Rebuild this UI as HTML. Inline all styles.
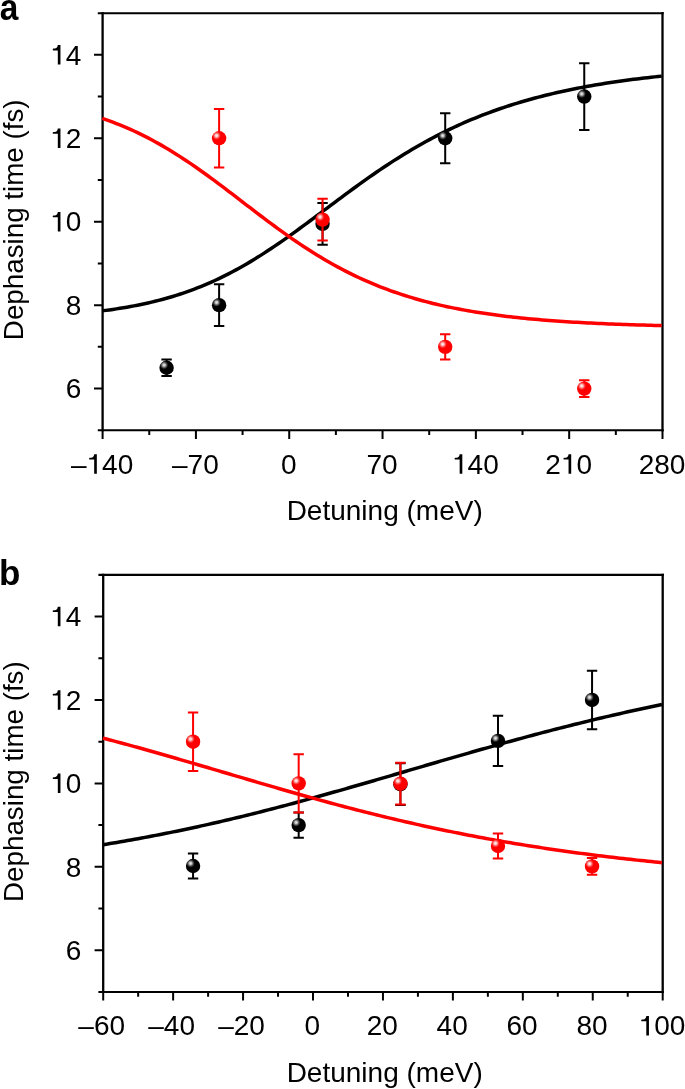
<!DOCTYPE html>
<html><head><meta charset="utf-8"><style>
html,body{margin:0;padding:0;background:#fff;}
svg{display:block;will-change:transform;}
</style></head><body>
<svg width="685" height="1089" viewBox="0 0 685 1089" font-family="Liberation Sans, sans-serif" font-size="28" fill="#000">
<defs>
<path id="one" d="M7.65,-19.5 L10.3,-19.5 L10.3,0 L7.65,0 L7.65,-14.1 L3.4,-14.1 Q2.55,-14.1 2.55,-15.0 Q2.55,-15.9 3.4,-15.9 L4.6,-15.9 Q7.3,-16.2 7.65,-19.5 Z"/>
<radialGradient id="hk" cx="0.325" cy="0.315" r="0.29"><stop offset="0" stop-color="#ececec"/><stop offset="0.3" stop-color="#c4c4c4"/><stop offset="0.65" stop-color="#505050"/><stop offset="1" stop-color="#000"/></radialGradient>
<radialGradient id="hr" cx="0.325" cy="0.315" r="0.29"><stop offset="0" stop-color="#fff6f6"/><stop offset="0.3" stop-color="#ffcccc"/><stop offset="0.65" stop-color="#ff5050"/><stop offset="1" stop-color="#f00"/></radialGradient>
</defs>
<rect width="685" height="1089" fill="#fff"/>
<path d="M102.6,12.1 V431.3 M662.5,12.1 V431.3" stroke="#000" stroke-width="2.3" fill="none"/>
<path d="M97.8,13.2 H663.65 M97.8,430.3 H663.65" stroke="#000" stroke-width="2.1" fill="none"/>
<path d="M102.6,388.58 h-8.6 M102.6,346.86 h-4.8 M102.6,305.14 h-8.6 M102.6,263.42 h-4.8 M102.6,221.70 h-8.6 M102.6,179.98 h-4.8 M102.6,138.26 h-8.6 M102.6,96.54 h-4.8 M102.6,54.82 h-8.6 M102.60,430.3 v8.6 M195.92,430.3 v8.6 M289.23,430.3 v8.6 M382.55,430.3 v8.6 M475.87,430.3 v8.6 M569.18,430.3 v8.6 M662.50,430.3 v8.6 M149.26,430.3 v4.8 M242.57,430.3 v4.8 M335.89,430.3 v4.8 M429.21,430.3 v4.8 M522.52,430.3 v4.8 M615.84,430.3 v4.8" stroke="#000" stroke-width="2.0" fill="none"/>
<polyline points="102.30,310.83 105.82,310.38 109.34,309.90 112.85,309.40 116.37,308.87 119.89,308.32 123.41,307.75 126.93,307.15 130.45,306.52 133.96,305.86 137.48,305.18 141.00,304.46 144.52,303.71 148.04,302.93 151.56,302.11 155.07,301.26 158.59,300.37 162.11,299.45 165.63,298.49 169.15,297.49 172.66,296.45 176.18,295.36 179.70,294.24 183.22,293.07 186.74,291.86 190.26,290.60 193.77,289.30 197.29,287.95 200.81,286.55 204.33,285.11 207.85,283.61 211.37,282.07 214.88,280.48 218.40,278.84 221.92,277.15 225.44,275.41 228.96,273.62 232.47,271.78 235.99,269.90 239.51,267.96 243.03,265.98 246.55,263.95 250.07,261.87 253.58,259.75 257.10,257.59 260.62,255.38 264.14,253.13 267.66,250.84 271.18,248.51 274.69,246.15 278.21,243.75 281.73,241.32 285.25,238.86 288.77,236.37 292.28,233.85 295.80,231.31 299.32,228.75 302.84,226.17 306.36,223.58 309.88,220.97 313.39,218.35 316.91,215.72 320.43,213.09 323.95,210.45 327.47,207.82 330.99,205.18 334.50,202.55 338.02,199.92 341.54,197.30 345.06,194.69 348.58,192.10 352.09,189.52 355.61,186.96 359.13,184.42 362.65,181.90 366.17,179.40 369.69,176.92 373.20,174.47 376.72,172.05 380.24,169.65 383.76,167.29 387.28,164.96 390.80,162.65 394.31,160.38 397.83,158.15 401.35,155.94 404.87,153.78 408.39,151.64 411.91,149.55 415.42,147.49 418.94,145.46 422.46,143.47 425.98,141.52 429.50,139.61 433.01,137.73 436.53,135.89 440.05,134.08 443.57,132.32 447.09,130.59 450.61,128.89 454.12,127.23 457.64,125.61 461.16,124.02 464.68,122.47 468.20,120.95 471.72,119.47 475.23,118.02 478.75,116.60 482.27,115.22 485.79,113.86 489.31,112.54 492.82,111.26 496.34,110.00 499.86,108.77 503.38,107.57 506.90,106.40 510.42,105.26 513.93,104.15 517.45,103.07 520.97,102.01 524.49,100.98 528.01,99.97 531.53,98.99 535.04,98.04 538.56,97.11 542.08,96.20 545.60,95.31 549.12,94.45 552.63,93.61 556.15,92.80 559.67,92.00 563.19,91.22 566.71,90.47 570.23,89.73 573.74,89.01 577.26,88.32 580.78,87.64 584.30,86.97 587.82,86.33 591.34,85.70 594.85,85.09 598.37,84.50 601.89,83.92 605.41,83.35 608.93,82.81 612.44,82.27 615.96,81.75 619.48,81.24 623.00,80.75 626.52,80.27 630.04,79.81 633.55,79.35 637.07,78.91 640.59,78.48 644.11,78.06 647.63,77.65 651.15,77.26 654.66,76.87 658.18,76.50 661.70,76.13" fill="none" stroke="#000" stroke-width="3.5" stroke-linejoin="round"/>
<polyline points="102.30,118.42 105.82,119.63 109.34,120.89 112.85,122.19 116.37,123.54 119.89,124.94 123.41,126.38 126.93,127.88 130.45,129.43 133.96,131.02 137.48,132.67 141.00,134.37 144.52,136.12 148.04,137.92 151.56,139.77 155.07,141.68 158.59,143.63 162.11,145.64 165.63,147.69 169.15,149.79 172.66,151.95 176.18,154.14 179.70,156.39 183.22,158.67 186.74,161.00 190.26,163.38 193.77,165.79 197.29,168.23 200.81,170.72 204.33,173.23 207.85,175.78 211.37,178.35 214.88,180.95 218.40,183.57 221.92,186.21 225.44,188.87 228.96,191.55 232.47,194.23 235.99,196.92 239.51,199.62 243.03,202.32 246.55,205.02 250.07,207.72 253.58,210.41 257.10,213.09 260.62,215.76 264.14,218.41 267.66,221.05 271.18,223.67 274.69,226.26 278.21,228.83 281.73,231.38 285.25,233.89 288.77,236.38 292.28,238.83 295.80,241.25 299.32,243.63 302.84,245.97 306.36,248.28 309.88,250.54 313.39,252.77 316.91,254.95 320.43,257.10 323.95,259.20 327.47,261.25 330.99,263.26 334.50,265.23 338.02,267.15 341.54,269.03 345.06,270.86 348.58,272.65 352.09,274.40 355.61,276.10 359.13,277.75 362.65,279.37 366.17,280.94 369.69,282.46 373.20,283.95 376.72,285.39 380.24,286.80 383.76,288.16 387.28,289.48 390.80,290.77 394.31,292.01 397.83,293.22 401.35,294.39 404.87,295.53 408.39,296.63 411.91,297.70 415.42,298.73 418.94,299.73 422.46,300.70 425.98,301.64 429.50,302.55 433.01,303.43 436.53,304.28 440.05,305.10 443.57,305.90 447.09,306.67 450.61,307.41 454.12,308.13 457.64,308.82 461.16,309.49 464.68,310.14 468.20,310.77 471.72,311.37 475.23,311.96 478.75,312.52 482.27,313.06 485.79,313.59 489.31,314.10 492.82,314.59 496.34,315.06 499.86,315.52 503.38,315.96 506.90,316.39 510.42,316.80 513.93,317.19 517.45,317.57 520.97,317.94 524.49,318.30 528.01,318.64 531.53,318.97 535.04,319.29 538.56,319.60 542.08,319.90 545.60,320.19 549.12,320.46 552.63,320.73 556.15,320.99 559.67,321.23 563.19,321.47 566.71,321.70 570.23,321.92 573.74,322.14 577.26,322.35 580.78,322.54 584.30,322.74 587.82,322.92 591.34,323.10 594.85,323.27 598.37,323.44 601.89,323.60 605.41,323.75 608.93,323.90 612.44,324.04 615.96,324.18 619.48,324.32 623.00,324.44 626.52,324.57 630.04,324.69 633.55,324.80 637.07,324.91 640.59,325.02 644.11,325.12 647.63,325.22 651.15,325.32 654.66,325.41 658.18,325.50 661.70,325.58" fill="none" stroke="#f00" stroke-width="3.5" stroke-linejoin="round"/>
<text x="65.73" y="398.28">6</text>
<text x="65.73" y="314.84">8</text>
<text x="50.16" y="231.40"> 0</text><use href="#one" transform="translate(50.16,231.40)"/>
<text x="50.16" y="147.96"> 2</text><use href="#one" transform="translate(50.16,147.96)"/>
<text x="50.16" y="64.52"> 4</text><use href="#one" transform="translate(50.16,64.52)"/>
<text x="70.96" y="473.70">– 40</text><use href="#one" transform="translate(86.53,473.70)"/>
<text x="172.06" y="473.70">–70</text>
<text x="280.95" y="473.70">0</text>
<text x="366.48" y="473.70">70</text>
<text x="452.01" y="473.70"> 40</text><use href="#one" transform="translate(452.01,473.70)"/>
<text x="545.32" y="473.70">2 0</text><use href="#one" transform="translate(560.90,473.70)"/>
<text x="638.64" y="473.70">280</text>
<text x="384.7" y="519.60" text-anchor="middle">Detuning (meV)</text>
<text transform="translate(23.3,219.80) rotate(-90) scale(0.992,1)" text-anchor="middle">Dephasing time (fs)</text>
<text transform="translate(-0.3,19.6) scale(0.955,1.05)" font-weight="bold" font-size="35">a</text>
<path d="M166.59,359.38 V376.06 M161.39,359.38 h10.4 M161.39,376.06 h10.4" stroke="#000" stroke-width="2.0" fill="none"/>
<circle cx="166.59" cy="367.72" r="7.2" fill="url(#hk)"/>
<path d="M219.11,284.28 V326.00 M213.91,284.28 h10.4 M213.91,326.00 h10.4" stroke="#000" stroke-width="2.0" fill="none"/>
<circle cx="219.11" cy="305.14" r="7.2" fill="url(#hk)"/>
<path d="M322.56,202.93 V244.65 M317.36,202.93 h10.4 M317.36,244.65 h10.4" stroke="#000" stroke-width="2.0" fill="none"/>
<circle cx="322.56" cy="223.79" r="7.2" fill="url(#hk)"/>
<path d="M445.21,113.23 V163.29 M440.01,113.23 h10.4 M440.01,163.29 h10.4" stroke="#000" stroke-width="2.0" fill="none"/>
<circle cx="445.21" cy="138.26" r="7.2" fill="url(#hk)"/>
<path d="M584.25,63.16 V129.92 M579.05,63.16 h10.4 M579.05,129.92 h10.4" stroke="#000" stroke-width="2.0" fill="none"/>
<circle cx="584.25" cy="96.54" r="7.2" fill="url(#hk)"/>
<path d="M219.11,109.06 V167.46 M213.91,109.06 h10.4 M213.91,167.46 h10.4" stroke="#f00" stroke-width="2.0" fill="none"/>
<circle cx="219.11" cy="138.26" r="7.2" fill="url(#hr)"/>
<path d="M322.56,198.75 V240.47 M317.36,198.75 h10.4 M317.36,240.47 h10.4" stroke="#f00" stroke-width="2.0" fill="none"/>
<circle cx="322.56" cy="219.61" r="7.2" fill="url(#hr)"/>
<path d="M445.21,334.34 V359.38 M440.01,334.34 h10.4 M440.01,359.38 h10.4" stroke="#f00" stroke-width="2.0" fill="none"/>
<circle cx="445.21" cy="346.86" r="7.2" fill="url(#hr)"/>
<path d="M584.25,380.24 V396.92 M579.05,380.24 h10.4 M579.05,396.92 h10.4" stroke="#f00" stroke-width="2.0" fill="none"/>
<circle cx="584.25" cy="388.58" r="7.2" fill="url(#hr)"/>
<path d="M103.2,573.8 V993.0 M662.7,573.8 V993.0" stroke="#000" stroke-width="2.3" fill="none"/>
<path d="M98.4,574.9 H663.85 M98.4,992.0 H663.85" stroke="#000" stroke-width="2.1" fill="none"/>
<path d="M103.2,950.28 h-8.6 M103.2,908.56 h-4.8 M103.2,866.84 h-8.6 M103.2,825.12 h-4.8 M103.2,783.40 h-8.6 M103.2,741.68 h-4.8 M103.2,699.96 h-8.6 M103.2,658.24 h-4.8 M103.2,616.52 h-8.6 M103.20,992.0 v8.6 M173.14,992.0 v8.6 M243.07,992.0 v8.6 M313.01,992.0 v8.6 M382.95,992.0 v8.6 M452.89,992.0 v8.6 M522.83,992.0 v8.6 M592.76,992.0 v8.6 M662.70,992.0 v8.6 M138.17,992.0 v4.8 M208.11,992.0 v4.8 M278.04,992.0 v4.8 M347.98,992.0 v4.8 M417.92,992.0 v4.8 M487.86,992.0 v4.8 M557.79,992.0 v4.8 M627.73,992.0 v4.8" stroke="#000" stroke-width="2.0" fill="none"/>
<polyline points="102.90,844.73 106.42,844.16 109.93,843.59 113.45,843.00 116.96,842.41 120.48,841.81 123.99,841.20 127.51,840.58 131.03,839.96 134.54,839.33 138.06,838.69 141.57,838.04 145.09,837.39 148.60,836.73 152.12,836.06 155.64,835.39 159.15,834.70 162.67,834.01 166.18,833.31 169.70,832.61 173.21,831.89 176.73,831.17 180.25,830.44 183.76,829.71 187.28,828.96 190.79,828.21 194.31,827.45 197.82,826.69 201.34,825.91 204.86,825.13 208.37,824.35 211.89,823.55 215.40,822.75 218.92,821.94 222.43,821.12 225.95,820.30 229.47,819.47 232.98,818.63 236.50,817.79 240.01,816.94 243.53,816.08 247.04,815.22 250.56,814.35 254.08,813.47 257.59,812.59 261.11,811.70 264.62,810.81 268.14,809.91 271.65,809.00 275.17,808.09 278.69,807.17 282.20,806.24 285.72,805.32 289.23,804.38 292.75,803.44 296.26,802.50 299.78,801.55 303.30,800.59 306.81,799.63 310.33,798.67 313.84,797.70 317.36,796.73 320.87,795.75 324.39,794.77 327.91,793.79 331.42,792.80 334.94,791.80 338.45,790.81 341.97,789.81 345.48,788.81 349.00,787.80 352.52,786.80 356.03,785.79 359.55,784.77 363.06,783.76 366.58,782.74 370.09,781.72 373.61,780.70 377.13,779.68 380.64,778.66 384.16,777.63 387.67,776.61 391.19,775.58 394.71,774.55 398.22,773.52 401.74,772.49 405.25,771.46 408.77,770.43 412.28,769.40 415.80,768.37 419.32,767.34 422.83,766.31 426.35,765.29 429.86,764.26 433.38,763.23 436.89,762.21 440.41,761.18 443.93,760.16 447.44,759.14 450.96,758.12 454.47,757.10 457.99,756.09 461.50,755.07 465.02,754.06 468.54,753.06 472.05,752.05 475.57,751.05 479.08,750.05 482.60,749.05 486.11,748.06 489.63,747.07 493.15,746.08 496.66,745.09 500.18,744.11 503.69,743.14 507.21,742.17 510.72,741.20 514.24,740.23 517.76,739.27 521.27,738.32 524.79,737.37 528.30,736.42 531.82,735.48 535.33,734.54 538.85,733.61 542.37,732.68 545.88,731.76 549.40,730.84 552.91,729.93 556.43,729.02 559.94,728.12 563.46,727.23 566.98,726.33 570.49,725.45 574.01,724.57 577.52,723.70 581.04,722.83 584.55,721.97 588.07,721.11 591.59,720.26 595.10,719.41 598.62,718.57 602.13,717.74 605.65,716.92 609.16,716.09 612.68,715.28 616.20,714.47 619.71,713.67 623.23,712.87 626.74,712.08 630.26,711.30 633.77,710.52 637.29,709.75 640.81,708.99 644.32,708.23 647.84,707.48 651.35,706.73 654.87,705.99 658.38,705.26 661.90,704.54" fill="none" stroke="#000" stroke-width="3.5" stroke-linejoin="round"/>
<polyline points="102.90,738.12 106.42,739.03 109.93,739.96 113.45,740.88 116.96,741.82 120.48,742.76 123.99,743.71 127.51,744.66 131.03,745.62 134.54,746.59 138.06,747.56 141.57,748.53 145.09,749.51 148.60,750.50 152.12,751.49 155.64,752.48 159.15,753.48 162.67,754.49 166.18,755.49 169.70,756.50 173.21,757.52 176.73,758.54 180.25,759.56 183.76,760.58 187.28,761.60 190.79,762.63 194.31,763.66 197.82,764.70 201.34,765.73 204.86,766.76 208.37,767.80 211.89,768.84 215.40,769.88 218.92,770.92 222.43,771.95 225.95,772.99 229.47,774.03 232.98,775.07 236.50,776.11 240.01,777.15 243.53,778.18 247.04,779.22 250.56,780.25 254.08,781.29 257.59,782.32 261.11,783.34 264.62,784.37 268.14,785.39 271.65,786.42 275.17,787.43 278.69,788.45 282.20,789.46 285.72,790.47 289.23,791.47 292.75,792.48 296.26,793.47 299.78,794.47 303.30,795.46 306.81,796.44 310.33,797.42 313.84,798.40 317.36,799.37 320.87,800.33 324.39,801.29 327.91,802.25 331.42,803.20 334.94,804.14 338.45,805.08 341.97,806.02 345.48,806.94 349.00,807.87 352.52,808.78 356.03,809.69 359.55,810.59 363.06,811.49 366.58,812.38 370.09,813.26 373.61,814.14 377.13,815.01 380.64,815.87 384.16,816.73 387.67,817.58 391.19,818.42 394.71,819.26 398.22,820.09 401.74,820.91 405.25,821.73 408.77,822.53 412.28,823.33 415.80,824.13 419.32,824.91 422.83,825.69 426.35,826.46 429.86,827.23 433.38,827.99 436.89,828.74 440.41,829.48 443.93,830.21 447.44,830.94 450.96,831.66 454.47,832.38 457.99,833.08 461.50,833.78 465.02,834.47 468.54,835.16 472.05,835.83 475.57,836.50 479.08,837.17 482.60,837.82 486.11,838.47 489.63,839.11 493.15,839.74 496.66,840.37 500.18,840.99 503.69,841.60 507.21,842.21 510.72,842.81 514.24,843.40 517.76,843.98 521.27,844.56 524.79,845.13 528.30,845.70 531.82,846.26 535.33,846.81 538.85,847.35 542.37,847.89 545.88,848.42 549.40,848.95 552.91,849.46 556.43,849.98 559.94,850.48 563.46,850.98 566.98,851.48 570.49,851.96 574.01,852.44 577.52,852.92 581.04,853.39 584.55,853.85 588.07,854.31 591.59,854.76 595.10,855.20 598.62,855.64 602.13,856.08 605.65,856.51 609.16,856.93 612.68,857.35 616.20,857.76 619.71,858.17 623.23,858.57 626.74,858.96 630.26,859.35 633.77,859.74 637.29,860.12 640.81,860.49 644.32,860.86 647.84,861.23 651.35,861.59 654.87,861.94 658.38,862.30 661.90,862.64" fill="none" stroke="#f00" stroke-width="3.5" stroke-linejoin="round"/>
<text x="65.73" y="959.98">6</text>
<text x="65.73" y="876.54">8</text>
<text x="50.16" y="793.10"> 0</text><use href="#one" transform="translate(50.16,793.10)"/>
<text x="50.16" y="709.66"> 2</text><use href="#one" transform="translate(50.16,709.66)"/>
<text x="50.16" y="626.22"> 4</text><use href="#one" transform="translate(50.16,626.22)"/>
<text x="78.34" y="1035.40">–60</text>
<text x="148.28" y="1035.40">–40</text>
<text x="218.22" y="1035.40">–20</text>
<text x="304.53" y="1035.40">0</text>
<text x="366.68" y="1035.40">20</text>
<text x="436.62" y="1035.40">40</text>
<text x="506.55" y="1035.40">60</text>
<text x="576.49" y="1035.40">80</text>
<text x="638.64" y="1035.40"> 00</text><use href="#one" transform="translate(638.64,1035.40)"/>
<text x="384.7" y="1082.40" text-anchor="middle">Detuning (meV)</text>
<text transform="translate(23.3,781.60) rotate(-90) scale(0.992,1)" text-anchor="middle">Dephasing time (fs)</text>
<text transform="translate(-0.9,585.4) scale(1.0,1.0)" font-weight="bold" font-size="35">b</text>
<path d="M193.07,853.49 V878.52 M187.87,853.49 h10.4 M187.87,878.52 h10.4" stroke="#000" stroke-width="2.0" fill="none"/>
<circle cx="193.07" cy="866.01" r="7.2" fill="url(#hk)"/>
<path d="M298.68,812.60 V837.64 M293.48,812.60 h10.4 M293.48,837.64 h10.4" stroke="#000" stroke-width="2.0" fill="none"/>
<circle cx="298.68" cy="825.12" r="7.2" fill="url(#hk)"/>
<path d="M400.43,763.37 V805.09 M395.23,763.37 h10.4 M395.23,805.09 h10.4" stroke="#000" stroke-width="2.0" fill="none"/>
<circle cx="400.43" cy="784.23" r="7.2" fill="url(#hk)"/>
<path d="M498.00,715.81 V765.88 M492.80,715.81 h10.4 M492.80,765.88 h10.4" stroke="#000" stroke-width="2.0" fill="none"/>
<circle cx="498.00" cy="740.85" r="7.2" fill="url(#hk)"/>
<path d="M592.06,670.76 V729.16 M586.86,670.76 h10.4 M586.86,729.16 h10.4" stroke="#000" stroke-width="2.0" fill="none"/>
<circle cx="592.06" cy="699.96" r="7.2" fill="url(#hk)"/>
<path d="M193.07,712.48 V770.88 M187.87,712.48 h10.4 M187.87,770.88 h10.4" stroke="#f00" stroke-width="2.0" fill="none"/>
<circle cx="193.07" cy="741.68" r="7.2" fill="url(#hr)"/>
<path d="M298.68,754.20 V812.60 M293.48,754.20 h10.4 M293.48,812.60 h10.4" stroke="#f00" stroke-width="2.0" fill="none"/>
<circle cx="298.68" cy="783.40" r="7.2" fill="url(#hr)"/>
<path d="M400.43,762.75 V804.47 M395.23,762.75 h10.4 M395.23,804.47 h10.4" stroke="#f00" stroke-width="2.0" fill="none"/>
<circle cx="400.43" cy="783.61" r="7.2" fill="url(#hr)"/>
<path d="M498.00,833.46 V858.50 M492.80,833.46 h10.4 M492.80,858.50 h10.4" stroke="#f00" stroke-width="2.0" fill="none"/>
<circle cx="498.00" cy="845.98" r="7.2" fill="url(#hr)"/>
<path d="M592.06,858.08 V874.77 M586.86,858.08 h10.4 M586.86,874.77 h10.4" stroke="#f00" stroke-width="2.0" fill="none"/>
<circle cx="592.06" cy="866.42" r="7.2" fill="url(#hr)"/>
</svg>
</body></html>
